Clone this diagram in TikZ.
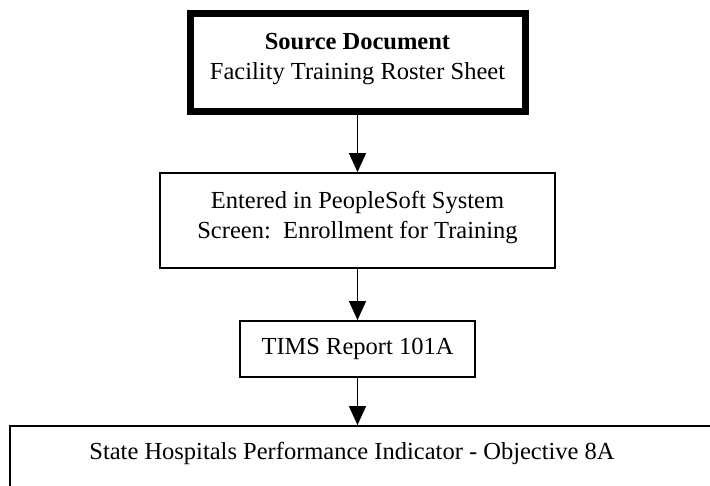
\documentclass[tikz,border=0pt]{standalone}
\usepackage{fontspec}
\setmainfont{Liberation Serif}
\usetikzlibrary{arrows.meta}
\begin{document}
\begin{tikzpicture}[x=1pt,y=-1pt,
  every node/.style={font=\fontsize{24.5}{30}\selectfont, inner sep=0pt, align=center},
  thinbox/.style={draw=black, line width=1.8pt, rectangle},
  heavybox/.style={draw=black, line width=7pt, rectangle},
  arr/.style={draw=black, line width=1.5pt, -{Triangle[length=19pt,width=17pt]}}]
\useasboundingbox (0,0) rectangle (710,486);
\node[heavybox, minimum width=335pt, minimum height=98pt] (src) at (357.5,62.5)
  {\textbf{Source Document}\\Facility Training Roster Sheet\rule[-12pt]{0pt}{0pt}};
\node[thinbox, minimum width=395pt, minimum height=95pt] (ent) at (357.5,220.5)
  {Entered in PeopleSoft System\\Screen:\ \ Enrollment for Training\rule[-12pt]{0pt}{0pt}};
\node[thinbox, minimum width=235pt, minimum height=56pt] (tims) at (357.5,349)
  {TIMS Report 101A};
\node[thinbox, minimum width=720pt, minimum height=76pt] (bot) at (370,464)
  {\hspace*{-36pt}State Hospitals Performance Indicator - Objective 8A\rule[-27pt]{0pt}{0pt}};
\draw[arr] (src.south) -- (ent.north);
\draw[arr] (ent.south) -- (tims.north);
\draw[arr] (tims.south) -- (tims.south |- bot.north);
\end{tikzpicture}
\end{document}
